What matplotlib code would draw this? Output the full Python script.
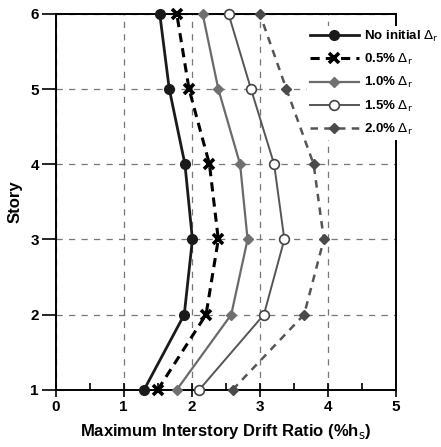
import numpy as np
import matplotlib.pyplot as plt
from matplotlib.ticker import MultipleLocator

plt.rcParams['font.family'] = ['Liberation Sans', 'DejaVu Sans']
plt.rcParams['mathtext.fontset'] = 'dejavusans'

# drift ratio per story (%hs)
story = [1, 2, 3, 4, 5, 6]
drift_0 = [1.30, 1.89, 2.01, 1.90, 1.67, 1.53]
drift_05 = [1.50, 2.21, 2.39, 2.26, 1.96, 1.78]
drift_10 = [1.78, 2.58, 2.82, 2.71, 2.39, 2.16]
drift_15 = [2.11, 3.06, 3.36, 3.21, 2.87, 2.54]
drift_20 = [2.60, 3.65, 3.94, 3.79, 3.39, 3.00]

labels = [r'No initial $\Delta_\mathrm{r}$', r'0.5% $\Delta_\mathrm{r}$',
          r'1.0% $\Delta_\mathrm{r}$', r'1.5% $\Delta_\mathrm{r}$',
          r'2.0% $\Delta_\mathrm{r}$']

fig = plt.figure(figsize=(4.41, 4.47), dpi=100)
ax = fig.add_axes([0.126, 0.128, 0.772, 0.841])

ax.plot(drift_0, story, color='#1a1a1a', lw=2, marker='o', ms=7,
        label=labels[0], clip_on=False, zorder=6)
ax.plot(drift_05, story, color='black', lw=2.2, ls=(0, (3, 2)), marker='x',
        ms=7, mew=2.6, label=labels[1], clip_on=False, zorder=6)
ax.plot(drift_10, story, color='#6a6a6a', lw=1.6, marker='D', ms=5.5,
        mfc='#707070', mec='#707070', label=labels[2], clip_on=False, zorder=6)
ax.plot(drift_15, story, color='#555555', lw=1.4, marker='o', ms=7,
        mfc='white', mec='#444444', mew=1.2, label=labels[3], clip_on=False, zorder=6)
ax.plot(drift_20, story, color='#555555', lw=1.8, ls=(0, (3, 2.5)), marker='D',
        ms=5.5, mfc='#4a4a4a', mec='#4a4a4a', label=labels[4], clip_on=False, zorder=6)

ax.set_xlim(0, 5)
ax.set_ylim(1, 6)
ax.set_xticks(range(0, 6))
ax.set_yticks(range(1, 7))
ax.xaxis.set_minor_locator(MultipleLocator(0.5))
ax.tick_params(axis='x', which='major', direction='inout', length=10, width=1.2,
               labelsize=11, pad=2)
ax.tick_params(axis='x', which='minor', direction='in', length=5, width=1.2)
ax.tick_params(axis='y', which='major', direction='out', length=10, width=1.2,
               labelsize=11, pad=2)
for lab in ax.get_xticklabels() + ax.get_yticklabels():
    lab.set_fontweight('bold')

for s in ax.spines.values():
    s.set_linewidth(1.4)

ax.grid(True, which='major', color='#777777', ls=(0, (5, 5)), lw=0.9)

ax.set_xlabel(r'Maximum Interstory Drift Ratio (%h$_\mathrm{s}$)',
              fontsize=12, fontweight='bold', labelpad=6)
ax.set_ylabel('Story', fontsize=12, fontweight='bold', labelpad=6)

leg = ax.legend(loc='upper right', bbox_to_anchor=(1.152, 0.985), frameon=True,
                fancybox=False, edgecolor='none', facecolor='white', framealpha=1,
                handlelength=3.7, handletextpad=0.4, labelspacing=0.62,
                borderpad=0.2, prop={'weight': 'bold', 'size': 9.5})
leg.set_zorder(10)

fig.savefig('out.png', dpi=100)
